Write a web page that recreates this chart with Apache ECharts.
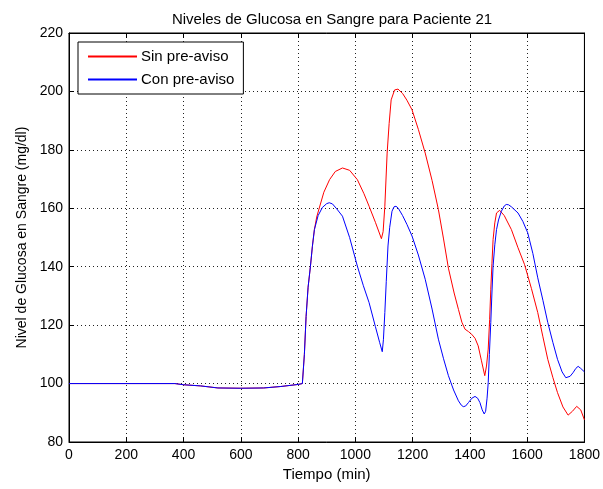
<!DOCTYPE html>
<html>
<head>
<meta charset="utf-8">
<script src="https://cdn.jsdelivr.net/npm/echarts@6/dist/echarts.min.js"></script>
<style>
    html, body { margin: 0; padding: 0; background: #fff; }
    #chart { width: 603px; height: 489px; }
</style>
</head>
<body>
<div id="chart"></div>
<script>
    //ejes
    var xTicks = [0, 200, 400, 600, 800, 1000, 1200, 1400, 1600, 1800];
    var yTicks = [80, 100, 120, 140, 160, 180, 200, 220];

    //tramo comun (basal + subida)
    var tiempoBase = [0, 370, 400, 460, 520, 600, 680, 740, 800, 815, 822, 828, 835, 843, 850, 857];
    var glucosaBase = [100, 100, 99.6, 99.2, 98.5, 98.4, 98.5, 99, 99.7, 100, 110, 123, 133, 140, 147, 152.7];

    //Sin pre-aviso
    var tiempoSin = [865, 874, 890, 910, 930, 955, 980, 1007, 1030, 1048, 1070, 1091, 1097, 1103, 1111, 1118, 1125, 1137, 1149, 1165, 1180, 1198, 1220, 1244, 1268, 1290, 1308, 1325, 1345, 1360, 1372, 1383, 1395, 1406, 1418, 1429, 1440, 1452, 1458, 1464, 1469, 1473, 1477, 1481, 1487, 1493, 1504, 1520, 1545, 1568, 1591, 1615, 1637, 1655, 1672, 1690, 1706, 1725, 1743, 1758, 1773, 1787, 1800];
    var glucosaSin = [157, 160.1, 165.5, 169.8, 172.6, 173.8, 173, 169.8, 165, 160.7, 155.2, 149.6, 152, 160.7, 178.9, 189, 197.1, 200.5, 200.8, 199.3, 197, 193.7, 187, 178.9, 169.5, 159.6, 149.5, 139.5, 131, 125.4, 121, 118.6, 117.8, 116.9, 115.5, 112.9, 108, 102.7, 106, 111.8, 122, 132.3, 141, 149.3, 155, 158.4, 159.3, 157.5, 152.7, 146.5, 140.7, 132.5, 124.3, 116, 108.3, 102, 96.9, 92, 89.2, 90.5, 92.2, 91, 87.6];

    //Con pre-aviso
    var tiempoCon = [870, 885, 900, 909, 920, 935, 955, 980, 1007, 1028, 1048, 1070, 1085, 1094, 1098, 1103, 1108, 1114, 1120, 1128, 1135, 1142, 1150, 1165, 1180, 1198, 1220, 1244, 1268, 1290, 1308, 1325, 1343, 1360, 1370, 1377, 1385, 1395, 1407, 1418, 1427, 1435, 1443, 1450, 1455, 1460, 1464, 1468, 1473, 1477, 1481, 1487, 1493, 1500, 1510, 1520, 1527, 1535, 1545, 1568, 1585, 1602, 1620, 1637, 1655, 1672, 1690, 1706, 1722, 1735, 1741, 1750, 1760, 1770, 1778, 1787, 1800];
    var glucosaCon = [157.5, 160.3, 161.6, 161.9, 161.5, 159.8, 157.3, 150, 140.2, 133.5, 127.7, 119.5, 114, 110.9, 115, 124.3, 135, 147.1, 153.5, 159, 160.5, 160.7, 160, 157.5, 154.5, 150.5, 144, 135.7, 125.5, 115.2, 108.5, 102.7, 97.8, 94.1, 92.6, 92.1, 92.3, 93.5, 95, 95.6, 95, 93.5, 91, 89.6, 90.5, 95, 100.3, 110, 120.9, 131, 140.2, 147.5, 152.7, 156, 159, 160.8, 161.3, 161.2, 160.5, 158.4, 155.5, 151.6, 144.5, 136.2, 128.5, 120.9, 114, 108.3, 104, 102, 101.8, 102.5, 103.7, 105.2, 105.9, 105.2, 104];

    var fuente = 'Liberation Sans, Arial, sans-serif';

    function pares(tx, ty) {
        var out = [];
        for (var i = 0; i < tiempoBase.length; i++) {
            out.push([tiempoBase[i], glucosaBase[i]]);
        }
        for (var j = 0; j < tx.length; j++) {
            out.push([tx[j], ty[j]]);
        }
        return out;
    }

    //sin separador de miles
    function etiqueta(v) {
        return String(v);
    }

    var xMin = xTicks[0], xMax = xTicks[xTicks.length - 1];
    var yMin = yTicks[0], yMax = yTicks[yTicks.length - 1];

    var ejeX = {
        type: 'value', min: xMin, max: xMax, interval: 200,
        axisLine: { show: true, onZero: false, lineStyle: { color: '#000', width: 1 } },
        axisTick: { show: true, inside: true, length: 5, lineStyle: { color: '#000' } }
    };
    var ejeY = {
        type: 'value', min: yMin, max: yMax, interval: 20,
        axisLine: { show: true, onZero: false, lineStyle: { color: '#000', width: 1 } },
        axisTick: { show: true, inside: true, length: 5, lineStyle: { color: '#000' } }
    };

    var chart = echarts.init(document.getElementById('chart'));

    var option = {
        backgroundColor: '#fff',
        animation: false,
        title: {
            text: 'Niveles de Glucosa en Sangre para Paciente 21',
            left: 327,
            top: 7,
            textAlign: 'center',
            textStyle: { fontFamily: fuente, fontSize: 15, fontWeight: 'normal', color: '#000' }
        },
        legend: {
            orient: 'vertical',
            left: 78,
            top: 42,
            padding: [7, 9, 7, 9],
            itemWidth: 49,
            itemHeight: 15,
            itemGap: 8,
            backgroundColor: '#fff',
            borderColor: '#000',
            borderWidth: 1,
            borderRadius: 0,
            itemStyle: { opacity: 0 },
            textStyle: { fontFamily: fuente, fontSize: 15, color: '#000', padding: [0, 0, 0, -1] },
            data: ['Sin pre-aviso', 'Con pre-aviso']
        },
        grid: {
            left: 69, right: 16, top: 33, bottom: 47,
            show: true, borderColor: '#000', borderWidth: 1
        },
        xAxis: [
            Object.assign({}, ejeX, {
                position: 'bottom',
                name: 'Tiempo (min)',
                nameLocation: 'middle',
                nameGap: 25,
                nameTextStyle: { fontFamily: fuente, fontSize: 15, color: '#000' },
                axisLabel: { fontFamily: fuente, fontSize: 14, color: '#000', margin: 6, formatter: etiqueta },
                splitLine: { show: true, lineStyle: { color: '#222', type: [1, 3], width: 1 } }
            }),
            Object.assign({}, ejeX, {
                position: 'top',
                axisLabel: { show: false },
                splitLine: { show: false }
            })
        ],
        yAxis: [
            Object.assign({}, ejeY, {
                position: 'left',
                name: 'Nivel de Glucosa en Sangre (mg/dl)',
                nameLocation: 'middle',
                nameGap: 39,
                nameTextStyle: { fontFamily: fuente, fontSize: 14, color: '#000' },
                axisLabel: { fontFamily: fuente, fontSize: 14, color: '#000', margin: 6, formatter: etiqueta },
                splitLine: { show: true, lineStyle: { color: '#222', type: [1, 3], width: 1 } }
            }),
            Object.assign({}, ejeY, {
                position: 'right',
                axisLabel: { show: false },
                splitLine: { show: false }
            })
        ],
        series: [
            {
                name: 'Sin pre-aviso',
                type: 'line',
                symbol: 'none',
                smooth: false,
                data: pares(tiempoSin, glucosaSin),
                color: '#ff0000',
                lineStyle: { color: '#ff0000', width: 1 }
            },
            {
                name: 'Con pre-aviso',
                type: 'line',
                symbol: 'none',
                smooth: false,
                data: pares(tiempoCon, glucosaCon),
                color: '#0000ff',
                lineStyle: { color: '#0000ff', width: 1 }
            }
        ]
    };

    chart.setOption(option);
</script>
</body>
</html>
